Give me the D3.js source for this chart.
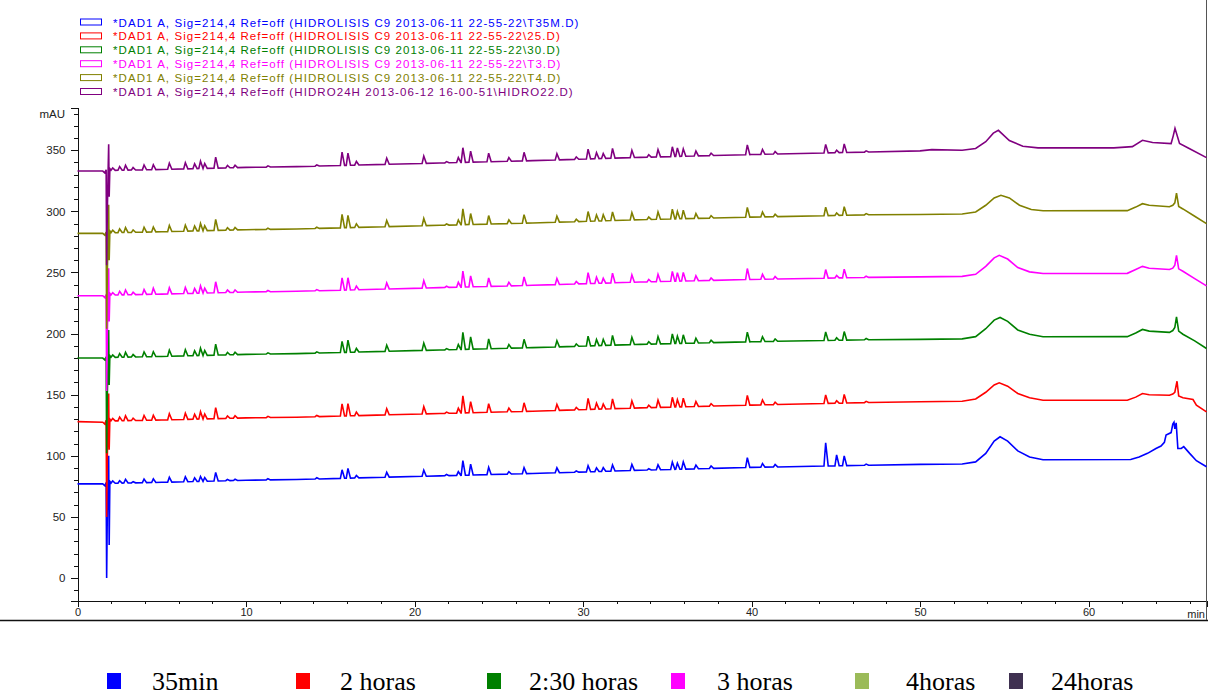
<!DOCTYPE html>
<html>
<head>
<meta charset="utf-8">
<script src="https://d3js.org/d3.v7.min.js"></script>
<style>
  body { margin: 0; background: #fff; }
  svg { display: block; }
</style>
</head>
<body>
<svg></svg>
<script>
const width = 1208, height = 695;

// series (bottom legend) and the run files they came from
const seriesNames = ['35min', '2 horas', '2:30 horas', '3 horas', '4horas', '24horas'];
const fileLabels = [
  '*DAD1 A, Sig=214,4 Ref=off (HIDROLISIS C9 2013-06-11 22-55-22\\T35M.D)',
  '*DAD1 A, Sig=214,4 Ref=off (HIDROLISIS C9 2013-06-11 22-55-22\\25.D)',
  '*DAD1 A, Sig=214,4 Ref=off (HIDROLISIS C9 2013-06-11 22-55-22\\30.D)',
  '*DAD1 A, Sig=214,4 Ref=off (HIDROLISIS C9 2013-06-11 22-55-22\\T3.D)',
  '*DAD1 A, Sig=214,4 Ref=off (HIDROLISIS C9 2013-06-11 22-55-22\\T4.D)',
  '*DAD1 A, Sig=214,4 Ref=off (HIDRO24H 2013-06-12 16-00-51\\HIDRO22.D)'
];
const traceColors = ['#0000ff', '#ff0000', '#008000', '#ff00ff', '#808000', '#800080'];
const legendColors = ['#0000ff', '#ff0000', '#008000', '#ff00ff', '#9bbb59', '#3f3151'];

const xTicks = [0, 10, 20, 30, 40, 50, 60];
const yTicks = [0, 50, 100, 150, 200, 250, 300, 350];

// retention times (min) of the sharp peaks
const peakTimes = [2.09, 2.5, 2.85, 3.3, 3.95, 4.5, 5.45, 6.4, 6.95, 7.3, 7.55, 8.2, 8.9, 9.35,
  11.3, 14.2, 15.7, 16.05, 16.55, 18.35, 20.55, 21.9, 22.6, 22.87, 23.33, 24.4, 25.6, 26.5,
  28.45, 29.6, 30.3, 30.8, 31.2, 31.75, 32.9, 33.9, 34.45, 35.3, 35.6, 35.95, 36.7, 37.6,
  39.75, 40.65, 41.4, 44.4, 45.05, 45.5, 46.8];

// peak heights above baseline (mAU), one per peak time
const heights35min = [2,2,3,1,3,3,4,4,3,4,3,7,1,1,1,1,7,8,2,4,5,1,3,12,9,6,2,5,4,1,5,3,3,5,5,1,4,6,5,6,3,2,8,3,2,19,9,8,1];
const heights2h    = [2,3,4,2,4,4,5,5,4,6,4,9,2,2,1,1,10,10,3,5,6,1,4,14,9,7,3,7,5,2,9,5,4,8,6,2,6,8,6,7,4,2,8,4,2,7,2,7,1];
const heights230   = [2,3,4,2,4,4,5,5,4,6,4,9,2,2,1,1,9,10,3,5,6,1,4,14,10,8,3,7,5,2,8,5,5,8,6,2,6,8,6,7,4,2,8,4,2,7,2,7,1];
const heights3h    = [2,3,4,2,4,5,5,5,4,6,4,9,2,2,1,1,10,10,3,5,6,1,4,13,9,7,3,7,5,2,9,5,4,8,6,2,6,8,7,7,4,2,9,4,2,7,2,7,1];
const heights4h    = [2,3,4,2,4,4,5,5,4,6,4,9,2,2,1,1,11,10,3,5,6,1,4,13,9,7,3,7,5,2,8,5,5,7,6,2,6,8,6,7,4,2,8,4,2,7,2,7,1];
const heights24h   = [2,3,4,2,4,4,5,5,4,6,4,9,2,2,1,1,11,10,3,5,6,1,4,12,9,7,3,7,5,2,8,5,4,8,6,2,6,8,7,6,4,2,8,4,2,7,2,7,1];

// baseline, injection spike and broad bands: [time min, mAU]
const base35min = [[0,77],[1.5,77],[1.62,75.5],[1.7,78],[1.73,0],[1.77,55],[1.82,80],[1.85,100],[1.88,27],[1.92,79],[2,77.5],
  [5,78.3],[10,80],[13,80.6],[21.5,83.6],[27,85.5],[33.4,88.2],[40,90.5],[47,92.3],[50,93],[52.5,93.3],[53.3,95],[53.9,102],
  [54.4,112],[54.75,115.6],[55.2,112],[55.8,104],[56.5,99],[57.3,96.8],[62.5,97],[63,99],[63.5,102],[64,106],[64.3,108],
  [64.5,111],[64.6,117],[64.9,119],[65,126],[65.07,127.5],[65.12,122],[65.2,127],[65.3,106],[65.5,106],[65.65,107.5],
  [66,102],[66.4,96],[67,91]];
const base2h = [[0,128],[1.5,127.5],[1.62,126],[1.7,129],[1.73,50],[1.77,100],[1.82,131],[1.85,151],[1.88,105],[1.92,130],[2,128.5],
  [5,129.3],[10,131],[13,131.6],[21.5,134.6],[27,136.5],[33.4,139.2],[40,141.5],[47,143.6],[50,144.2],[52.5,144.6],[53.3,146.5],
  [53.9,152],[54.4,158],[54.7,159.7],[55.2,157],[55.8,151],[56.5,147.5],[57.3,145.5],[62.3,145.5],[62.8,148],[63.2,151],
  [63.6,150],[64.8,149.5],[65,150.5],[65.12,152],[65.25,161],[65.35,149],[65.6,147.5],[66.2,146],[66.4,141.5],[67,136]];
const base230 = [[0,180],[1.5,180],[1.62,178.5],[1.7,181],[1.73,102],[1.77,150],[1.82,182],[1.85,203],[1.88,158],[1.92,182],[2,180.5],
  [5,181.3],[10,183],[13,183.6],[21.5,186.6],[27,188.5],[33.4,191.2],[40,193.3],[47,195],[50,195.3],[52.5,195.7],[53.3,197.5],
  [53.9,204],[54.4,211],[54.75,213.2],[55.2,210],[55.8,203],[56.5,199.5],[57.3,197.4],[62.3,197.5],[62.8,200.5],[63.2,203.4],
  [63.6,202],[64.8,201],[65,202.5],[65.12,205],[65.22,213.7],[65.35,202],[65.6,199.5],[66.3,194],[67,187.8]];
const base3h = [[0,231],[1.5,231],[1.62,229.5],[1.7,232],[1.73,153],[1.77,200],[1.82,233],[1.85,253.5],[1.88,210],[1.92,233],[2,231.5],
  [5,232.3],[10,234],[13,234.6],[21.5,237.6],[27,239.5],[33.4,242.2],[40,244.3],[47,246],[50,246.4],[52.5,246.8],[53.3,248.5],
  [53.9,255],[54.4,262],[54.7,264],[55.2,261],[55.8,254],[56.5,250.5],[57.3,249.2],[62.3,249.3],[62.8,252.5],[63.2,255],
  [63.6,253.5],[64.8,252.4],[65,253.5],[65.12,256],[65.22,264],[65.35,253],[65.6,251],[66.3,245],[67,239]];
const base4h = [[0,282],[1.5,282],[1.62,280.5],[1.7,283],[1.73,204],[1.77,250],[1.82,284],[1.85,305.5],[1.88,260],[1.92,284],[2,282.5],
  [5,283.3],[10,285],[13,285.6],[21.5,288.6],[27,290.5],[33.4,293.2],[40,295.3],[47,297.2],[50,297.5],[52.5,297.9],[53.3,299.5],
  [53.9,305],[54.4,311],[54.8,313.2],[55.3,311],[55.9,305],[56.6,301.5],[57.3,300.5],[62.3,300.6],[62.8,303.5],[63.2,306.3],
  [63.6,305],[64.8,303.8],[65,305],[65.12,307],[65.22,315],[65.35,304],[65.6,302],[66.3,296],[67,290]];
const base24h = [[0,333],[1.5,333],[1.62,331.5],[1.7,334],[1.73,256],[1.77,300],[1.82,335],[1.85,355],[1.88,312],[1.92,335],[2,333.5],
  [5,334.3],[10,336],[13,336.6],[21.5,339.6],[27,341.5],[33.4,344.2],[40,346.5],[47,348.6],[50,349.5],[50.7,350.5],[52.5,350],
  [53.3,351.5],[53.9,357],[54.35,364],[54.65,366.3],[55.3,358],[56.1,353.3],[57,352],[61.5,352],[62.6,353],[63.2,358.2],
  [63.8,356.3],[64.9,355.5],[65.03,362],[65.13,368],[65.4,355.5],[66,351.3],[67,344]];

const bases = [base35min, base2h, base230, base3h, base4h, base24h];
const heights = [heights35min, heights2h, heights230, heights3h, heights4h, heights24h];

const svg = d3.select('svg').attr('width', width).attr('height', height)
  .style('font-family', '"Liberation Sans", Arial, sans-serif');

const x = d3.scaleLinear().domain([0, 67]).range([77.5, 1206.5]);
const y = d3.scaleLinear().domain([-18.4, 385]).range([600.5, 107.5]);

// file legend at top
const topLegend = svg.append('g');
fileLabels.forEach((label, i) => {
  const cy = 22.5 + i * 13.9;
  topLegend.append('rect')
    .attr('x', 80.5).attr('y', cy - 3.5).attr('width', 21).attr('height', 6)
    .attr('fill', 'none').attr('stroke', traceColors[i]).attr('stroke-width', 1);
  topLegend.append('text')
    .attr('x', 113).attr('y', cy + 4)
    .attr('fill', traceColors[i])
    .style('font-size', '11.5px').style('letter-spacing', '1.07px')
    .text(label);
});

// y axis
svg.append('g').attr('transform', 'translate(78,0)')
  .call(d3.axisLeft(y).tickValues(d3.range(-10, 381, 10)).tickSize(4).tickFormat(''));
svg.append('g').attr('transform', 'translate(78,0)')
  .call(d3.axisLeft(y).tickValues(yTicks).tickSize(7.5).tickPadding(5));
svg.append('text').attr('x', 65).attr('y', y(380) + 4).attr('text-anchor', 'end')
  .style('font-size', '11.5px').attr('fill', '#222').text('mAU');

// x axis
svg.append('g').attr('transform', 'translate(0,600.5)')
  .call(d3.axisBottom(x).tickValues(d3.range(0, 67, 2)).tickSize(3).tickFormat(''));
const xMajor = svg.append('g').attr('transform', 'translate(0,600.5)')
  .call(d3.axisBottom(x).tickValues(xTicks).tickSize(6).tickPadding(2));
svg.append('text').attr('x', 1205).attr('y', 617.5).attr('text-anchor', 'end')
  .style('font-size', '11px').attr('fill', '#222').text('min');

svg.selectAll('.tick text').style('font-size', '11.5px').attr('fill', '#222').style('font-family', '"Liberation Sans", Arial, sans-serif');
xMajor.selectAll('.tick text').style('font-size', '11px');
svg.selectAll('.domain, .tick line').attr('stroke', '#111').attr('shape-rendering', 'crispEdges');

// frame lines
svg.append('line').attr('x1', 0).attr('x2', width).attr('y1', 620.5).attr('y2', 620.5)
  .attr('stroke', '#111').attr('stroke-width', 1.5);
svg.append('line').attr('x1', 1206.5).attr('x2', 1206.5).attr('y1', 0).attr('y2', 620)
  .attr('stroke', '#555').attr('stroke-width', 1);

// traces: baseline points plus a narrow spike at each peak time
function tracePoints(base, h) {
  const baseAt = d3.scaleLinear().domain(base.map(d => d[0])).range(base.map(d => d[1]));
  const pts = base.filter(d => !peakTimes.some(t => d[0] > t - 0.11 && d[0] < t + 0.17));
  peakTimes.forEach((t, i) => {
    pts.push([t - 0.1, baseAt(t - 0.1)], [t, baseAt(t) + h[i]], [t + 0.15, baseAt(t + 0.15)]);
  });
  return pts.sort((a, b) => a[0] - b[0]);
}

const line = d3.line().x(d => x(d[0])).y(d => y(d[1]));
const traces = svg.append('g');
bases.forEach((base, i) => {
  traces.append('path')
    .datum(tracePoints(base, heights[i]))
    .attr('d', line)
    .attr('fill', 'none')
    .attr('stroke', traceColors[i])
    .attr('stroke-width', 1.6)
    .attr('stroke-linejoin', 'miter');
});

// series legend at bottom
const squareX = [107, 296, 487, 671, 855, 1009];
const bottomLegend = svg.append('g');
seriesNames.forEach((name, i) => {
  bottomLegend.append('rect')
    .attr('x', squareX[i]).attr('y', 673).attr('width', 14).attr('height', 16)
    .attr('fill', legendColors[i]);
});
const textX = [152, 340, 529, 717, 906, 1051];
seriesNames.forEach((name, i) => {
  bottomLegend.append('text')
    .attr('x', textX[i]).attr('y', 690)
    .style('font-family', '"Liberation Serif", "Times New Roman", serif')
    .style('font-size', '26px').attr('fill', '#000')
    .text(name);
});
</script>
</body>
</html>
